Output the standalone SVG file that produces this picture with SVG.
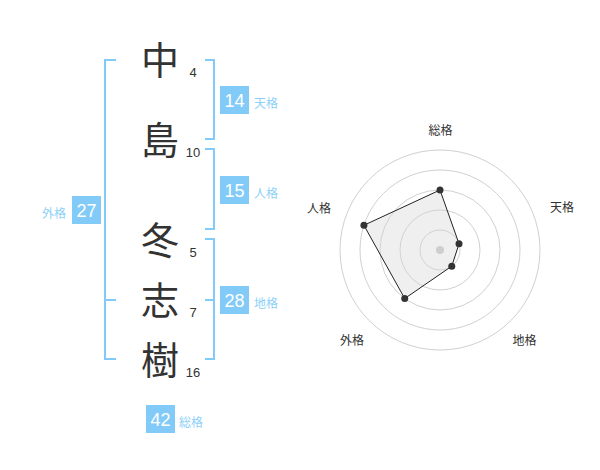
<svg xmlns="http://www.w3.org/2000/svg" width="600" height="470" viewBox="0 0 600 470">
<style>
.kanji{font-family:"Noto Sans CJK JP","Noto Sans CJK SC",sans-serif;font-size:38px;fill:#333;text-anchor:middle}
.num{font-family:"Liberation Sans",Arial,sans-serif;font-size:13px;fill:#333;text-anchor:middle}
.box{fill:#82cbf8}
.boxnum{font-family:"Liberation Sans",Arial,sans-serif;font-size:18px;fill:#fff;text-anchor:middle}
.lbl{font-family:"Noto Sans CJK JP",sans-serif;font-size:12px;fill:#8dd0f8}
.br{fill:none;stroke:#82cbf8;stroke-width:2}
.ring{fill:none;stroke:#d0d0d0;stroke-width:1}
.rlbl{font-family:"Noto Sans CJK JP",sans-serif;font-size:12px;fill:#333;text-anchor:middle}
.pt{fill:#333}
</style>
<rect width="600" height="470" fill="#fff"/>
<g id="connectors">
<path class="br" d="M116,60 H105 V359 H116 M105,300 H116"/>
<path class="br" d="M205,60 H214 V139 H205"/>
<path class="br" d="M205,149 H214 V229 H205"/>
<path class="br" d="M205,239 H214 V359 H205 M205,300 H214"/>
</g>
<g id="char-naka"><text class="kanji" x="160" y="74">中</text><text class="num" x="193" y="77">4</text></g>
<g id="char-shima"><text class="kanji" x="160" y="154">島</text><text class="num" x="193" y="157">10</text></g>
<g id="char-fuyu"><text class="kanji" x="160" y="254">冬</text><text class="num" x="193" y="257">5</text></g>
<g id="char-shi"><text class="kanji" x="160" y="314">志</text><text class="num" x="193" y="317">7</text></g>
<g id="char-ki"><text class="kanji" x="160" y="374">樹</text><text class="num" x="193" y="377">16</text></g>
<g id="tenkaku"><rect class="box" x="220" y="86" width="29" height="28"/><text class="boxnum" x="234.5" y="106.5">14</text><text class="lbl" x="254" y="108">天格</text></g>
<g id="jinkaku"><rect class="box" x="220" y="176" width="29" height="28"/><text class="boxnum" x="234.5" y="196.5">15</text><text class="lbl" x="254" y="198">人格</text></g>
<g id="chikaku"><rect class="box" x="220" y="286" width="29" height="28"/><text class="boxnum" x="234.5" y="306.5">28</text><text class="lbl" x="254" y="308">地格</text></g>
<g id="gaikaku"><rect class="box" x="72" y="196" width="29" height="28"/><text class="boxnum" x="86.5" y="216.5">27</text><text class="lbl" x="42" y="218">外格</text></g>
<g id="soukaku"><rect class="box" x="146" y="405" width="29" height="28"/><text class="boxnum" x="160.5" y="425.5">42</text><text class="lbl" x="179" y="427">総格</text></g>
<g id="radar">
<circle class="ring" cx="440" cy="250" r="100"/>
<circle class="ring" cx="440" cy="250" r="80"/>
<circle class="ring" cx="440" cy="250" r="60"/>
<circle class="ring" cx="440" cy="250" r="40"/>
<circle class="ring" cx="440" cy="250" r="20"/>
<circle cx="440" cy="250" r="4" fill="#c8c8c8"/>
<polygon points="440,190 459.02,243.82 451.76,266.18 404.73,298.54 363.92,225.28" fill="#d8d8d8" fill-opacity="0.4" stroke="#222" stroke-width="1"/>
<circle class="pt" cx="440" cy="190" r="3.5"/>
<circle class="pt" cx="459.02" cy="243.82" r="3.5"/>
<circle class="pt" cx="451.76" cy="266.18" r="3.5"/>
<circle class="pt" cx="404.73" cy="298.54" r="3.5"/>
<circle class="pt" cx="363.92" cy="225.28" r="3.5"/>
<text class="rlbl" x="440.5" y="135">総格</text>
<text class="rlbl" x="562" y="212">天格</text>
<text class="rlbl" x="319" y="213">人格</text>
<text class="rlbl" x="352" y="345">外格</text>
<text class="rlbl" x="524.5" y="345">地格</text>
</g>
</svg>
